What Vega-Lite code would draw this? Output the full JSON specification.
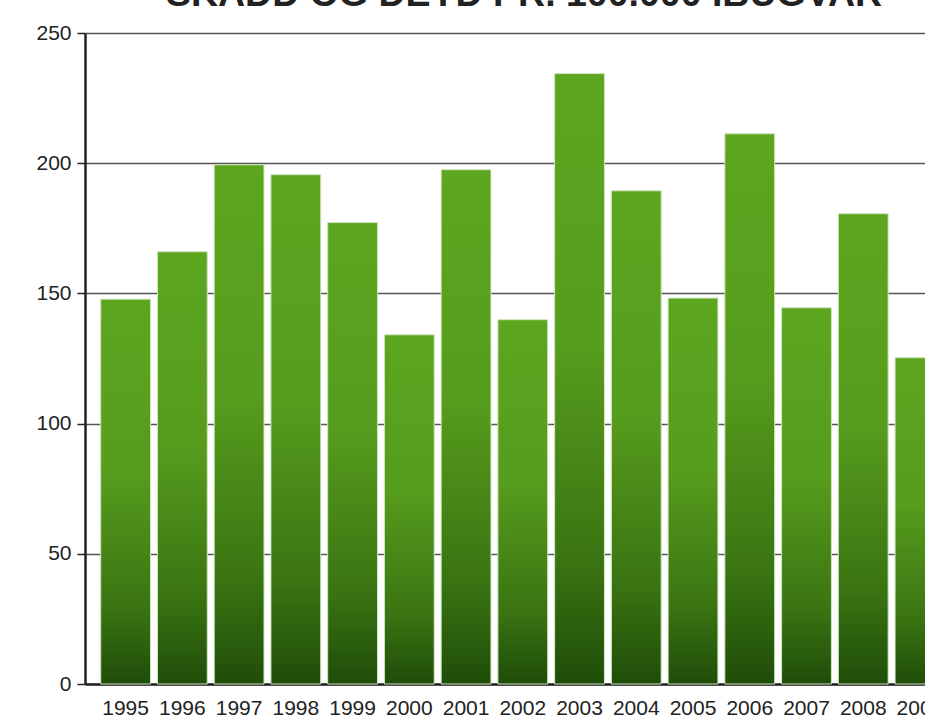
{
  "$schema": "https://vega.github.io/schema/vega-lite/v6.json",
  "width": 840,
  "height": 651,
  "autosize": {"type": "none"},
  "padding": {"left": 85, "top": 33, "right": 0, "bottom": 33},
  "background": "white",
  "title": {
    "text": "SKADD OG DEYÐ PR. 100.000 ÍBÚGVAR",
    "font": "Liberation Sans",
    "fontSize": 37.5,
    "fontWeight": "bold",
    "color": "#222222",
    "anchor": "middle",
    "frame": "group",
    "baseline": "alphabetic",
    "offset": 0,
    "dx": 19,
    "dy": 21
  },
  "data": {
    "values": [
      {"year": "1995", "value": 147.8},
      {"year": "1996", "value": 166.0},
      {"year": "1997", "value": 199.4},
      {"year": "1998", "value": 195.6},
      {"year": "1999", "value": 177.2},
      {"year": "2000", "value": 134.1},
      {"year": "2001", "value": 197.5},
      {"year": "2002", "value": 139.9},
      {"year": "2003", "value": 234.4},
      {"year": "2004", "value": 189.4},
      {"year": "2005", "value": 148.2},
      {"year": "2006", "value": 211.3},
      {"year": "2007", "value": 144.5},
      {"year": "2008", "value": 180.6},
      {"year": "2009", "value": 125.3}
    ]
  },
  "mark": {
    "type": "bar",
    "fill": {
      "gradient": "linear",
      "x1": 0, "y1": 0, "x2": 0, "y2": 1,
      "stops": [
        {"offset": 0, "color": "#5ca620"},
        {"offset": 0.45, "color": "#569c1d"},
        {"offset": 0.8, "color": "#3a7412"},
        {"offset": 1, "color": "#1f4d09"}
      ]
    },
    "stroke": "#cfe6bd",
    "strokeWidth": 1
  },
  "encoding": {
    "x": {
      "field": "year",
      "type": "ordinal",
      "scale": {"range": [0, 875.6], "paddingInner": 0.122, "paddingOuter": 0.277},
      "axis": {
        "title": null,
        "labelAngle": 0,
        "ticks": false,
        "labelPadding": 13,
        "labelFont": "Liberation Sans",
        "labelFontSize": 21,
        "labelColor": "#222222",
        "domainColor": "#222222",
        "domainWidth": 2.5,
        "grid": false
      }
    },
    "y": {
      "field": "value",
      "type": "quantitative",
      "scale": {"domain": [0, 250], "nice": false},
      "axis": {
        "title": null,
        "values": [0, 50, 100, 150, 200, 250],
        "labelFont": "Liberation Sans",
        "labelFontSize": 21,
        "labelColor": "#222222",
        "labelPadding": 6,
        "tickSize": 8,
        "tickColor": "#222222",
        "tickWidth": 1.5,
        "domainColor": "#222222",
        "domainWidth": 2.5,
        "grid": true,
        "gridColor": "#555555",
        "gridWidth": 1.5
      }
    }
  },
  "config": {"view": {"stroke": null}}
}
